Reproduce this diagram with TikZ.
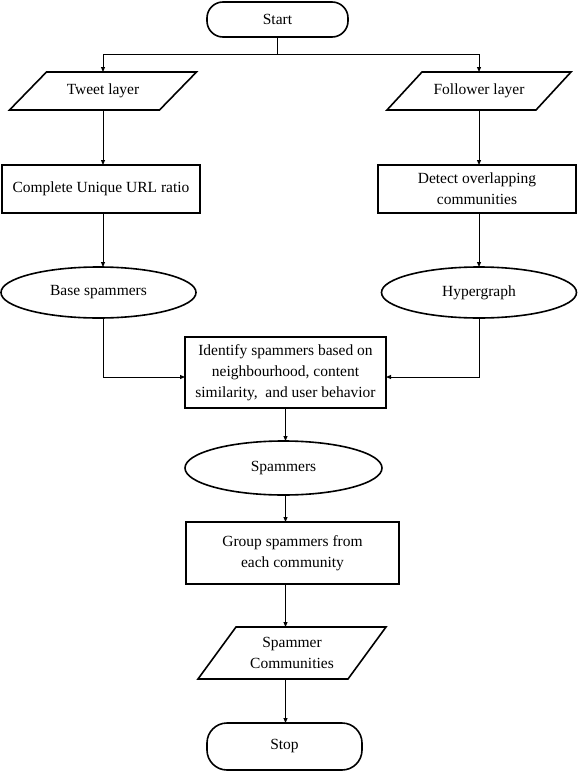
\documentclass[tikz,border=0pt]{standalone}
\usepackage{fontspec}
\setmainfont{Liberation Serif}
\newfontfamily\tnrfont{Liberation Serif}
\usetikzlibrary{shapes.geometric,arrows.meta,calc}
\begin{document}
\begin{tikzpicture}[x=1pt,y=-1pt,
  every node/.style={font=\tnrfont\fontsize{15.5}{21}\selectfont, align=center, inner sep=0pt, outer sep=0pt},
  terminal/.style={draw, line width=1.6pt, rounded corners=16pt},
  proc/.style={draw, line width=1.6pt},
  oval/.style={draw, line width=1.6pt, ellipse},
  io/.style={},
  pline/.style={line width=1.6pt, line join=miter},
  conn/.style={line width=1pt, -{Triangle[length=5pt,width=4pt]}}
]
\useasboundingbox (0,0) rectangle (578,771);

% nodes
\node[terminal, minimum width=141pt, minimum height=35pt] (start) at (277.5,19.5) {Start};
\node[io, minimum width=187pt, minimum height=38pt] (tw) at (103,91) {Tweet layer};
\node[io, minimum width=184pt, minimum height=38pt] (fl) at (479,91) {Follower layer};
\node[proc, minimum width=198pt, minimum height=48pt] (cur) at (101,189) {Complete Unique URL ratio};
\node[proc, minimum width=198pt, minimum height=48pt] (doc) at (477,189) {Detect overlapping\\communities};
\node[oval, minimum width=195pt, minimum height=51pt] (bs) at (98.5,292.5) {Base spammers};
\node[oval, minimum width=195pt, minimum height=51pt] (hg) at (479,292.5) {Hypergraph};
\node[proc, minimum width=201pt, minimum height=71pt] (id) at (285.5,372.5) {Identify spammers based on\\neighbourhood, content\\similarity,~ and user behavior};
\node[oval, minimum width=197pt, minimum height=54pt] (sp) at (283.5,468) {Spammers};
\node[proc, minimum width=213pt, minimum height=62pt] (grp) at (292.5,553) {Group spammers from\\each community};
\node[io, minimum width=188pt, minimum height=52pt] (sc) at (292,653) {Spammer\\Communities};
\node[terminal, minimum width=155pt, minimum height=47pt, rounded corners=20pt] (stop) at (284.5,746.5) {Stop};

% parallelogram outlines
\draw[pline] ([xshift=37pt]tw.north west) -- (tw.north east) -- ([xshift=-37pt]tw.south east) -- (tw.south west) -- cycle;
\draw[pline] ([xshift=35pt]fl.north west) -- (fl.north east) -- ([xshift=-35pt]fl.south east) -- (fl.south west) -- cycle;
\draw[pline] ([xshift=38pt]sc.north west) -- (sc.north east) -- ([xshift=-38pt]sc.south east) -- (sc.south west) -- cycle;

% connector end points
\coordinate (idL) at ([yshift=-4.5pt]id.west);
\coordinate (idR) at ([yshift=-4.5pt]id.east);

% connectors
\draw[conn] (start.south) -- ++(0,17) -| (tw.north);
\draw[conn] (start.south) -- ++(0,17) -| (fl.north);
\draw[conn] (tw.south) -- (tw.south |- cur.north);
\draw[conn] (fl.south) -- (fl.south |- doc.north);
\draw[conn] (tw.south |- cur.south) -- (tw.south |- bs.north);
\draw[conn] (fl.south |- doc.south) -- (fl.south |- hg.north);
\draw[conn] (tw.south |- bs.south) |- (idL);
\draw[conn] (hg.south) |- (idR);
\draw[conn] (id.south) -- (id.south |- sp.north);
\draw[conn] (id.south |- sp.south) -- (id.south |- grp.north);
\draw[conn] (id.south |- grp.south) -- (id.south |- sc.north);
\draw[conn] (id.south |- sc.south) -- (id.south |- stop.north);
\end{tikzpicture}
\end{document}
